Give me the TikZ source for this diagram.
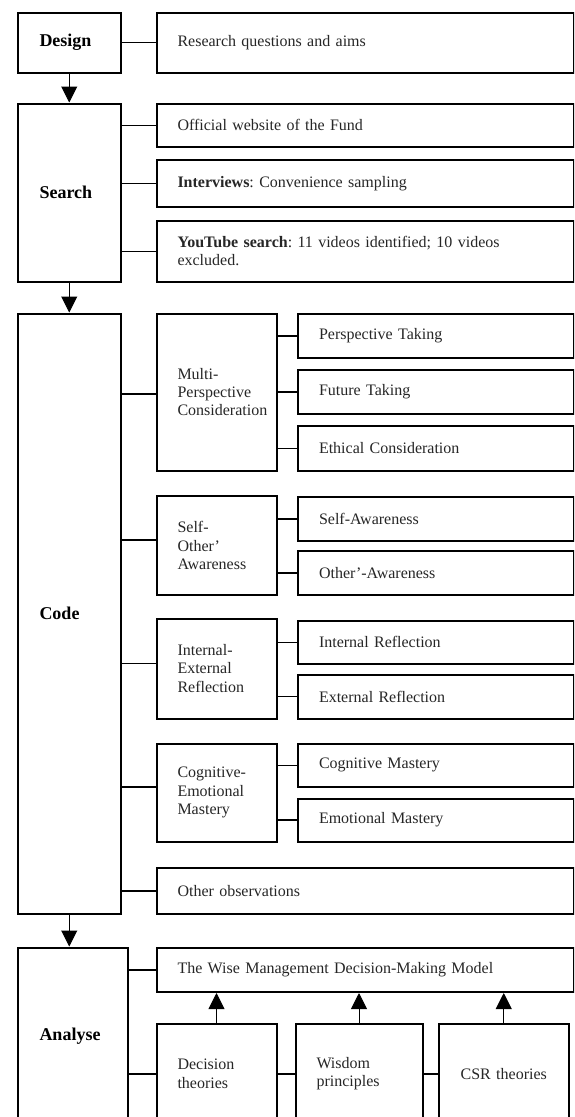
\documentclass[tikz,border=0pt]{standalone}
\usepackage{fontspec}
\setmainfont{Liberation Serif}
\usetikzlibrary{arrows.meta}
\frenchspacing
\begin{document}
\begin{tikzpicture}[x=1pt,y=-1pt]
    \tikzstyle{stageBox}=[draw,line width=2pt,anchor=north west,inner xsep=22pt,inner ysep=0pt,align=left,font=\fontsize{18}{21}\selectfont\bfseries]
    \tikzstyle{itemBox}=[draw,line width=2pt,anchor=north west,inner xsep=21pt,inner ysep=0pt,align=left,text=black!85,font=\fontsize{16}{18.4}\selectfont]
    \tikzstyle{link}=[line width=1.5pt]
    \tikzstyle{stageFlow}=[-{Triangle[width=16pt,length=16pt]}, line width=1pt]
    \useasboundingbox (0,0) rectangle (574,1117);
    \clip (0,0) rectangle (574,1117);

    % stages
    \node[stageBox,text width=59.5pt,minimum height=60pt] (design) at (16.5,11.5) {Design};
    \node[stageBox,text width=59.5pt,minimum height=178pt] (search) at (16.5,102.5) {Search};
    \node[stageBox,text width=59.5pt,minimum height=600pt] (code) at (16.5,312.5) {Code};
    \node[stageBox,text width=66pt,minimum height=177.5pt] (analyse) at (16.5,946.5) {Analyse};

    \node[itemBox,text width=375pt,minimum height=60pt] (aims) at (155.5,11.5) {Research questions and aims};

    \node[itemBox,text width=375pt,minimum height=43.5pt] (website) at (155.5,102.5) {Official website of the Fund};
    \node[itemBox,text width=375pt,minimum height=47pt] (interviews) at (155.5,159) {\textbf{Interviews}: Convenience sampling};
    \node[itemBox,text width=375pt,minimum height=60.5pt] (youtube) at (155.5,220) {\textbf{YouTube search}: 11 videos identified; 10 videos\\excluded.};

    \node[itemBox,text width=78.5pt,minimum height=157pt] (multi) at (155.5,312.5) {Multi-\\Perspective\\Consideration};
    \node[itemBox,text width=233.5pt,minimum height=43.5pt] (perspective) at (297,313) {Perspective Taking};
    \node[itemBox,text width=233.5pt,minimum height=43.5pt] (future) at (297,369) {Future Taking};
    \node[itemBox,text width=233.5pt,minimum height=44.5pt] (ethical) at (297,425) {Ethical Consideration};

    \node[itemBox,text width=78.5pt,minimum height=99pt] (selfother) at (155.5,495) {Self-\\Other’\\Awareness};
    \node[itemBox,text width=233.5pt,minimum height=43.5pt] (selfaware) at (297,496) {Self-Awareness};
    \node[itemBox,text width=233.5pt,minimum height=44pt] (otheraware) at (297,550) {Other’-Awareness};

    \node[itemBox,text width=78.5pt,minimum height=100pt] (intext) at (155.5,617.5) {Internal-\\External\\Reflection};
    \node[itemBox,text width=233.5pt,minimum height=43.5pt] (internal) at (297,619.5) {Internal Reflection};
    \node[itemBox,text width=233.5pt,minimum height=44pt] (external) at (297,673.5) {External Reflection};

    \node[itemBox,text width=78.5pt,minimum height=98pt] (cogemo) at (155.5,742.5) {Cognitive-\\Emotional\\Mastery};
    \node[itemBox,text width=233.5pt,minimum height=43.5pt] (cogmastery) at (297,742.5) {Cognitive Mastery};
    \node[itemBox,text width=233.5pt,minimum height=43pt] (emomastery) at (297,797.5) {Emotional Mastery};

    \node[itemBox,text width=375pt,minimum height=45.5pt] (otherobs) at (155.5,867) {Other observations};

    \node[itemBox,text width=375pt,minimum height=44.5pt] (wisemodel) at (155.5,946.5) {The Wise Management Decision-Making Model};
    \node[itemBox,text width=78pt,minimum height=100.5pt] (decision) at (155.5,1022.5) {Decision\\theories};
    \node[itemBox,text width=85pt,minimum height=100.5pt] (wisdom) at (294.5,1022.5) {Wisdom\\principles};
    \node[itemBox,text width=87.5pt,minimum height=100.5pt,align=center] (csr) at (438,1022.5) {CSR theories};

    % stage flow
    \draw[stageFlow] (design.south) -- (search.north);
    \draw[stageFlow] (search.south) -- (code.north);
    \draw[stageFlow] (code.south) -- (code.south |- analyse.north);

    \draw[link] (design.east) -- (design.east -| aims.west);

    \draw[link] (website.west) -- (website.west -| search.east);
    \draw[link] (interviews.west) -- (interviews.west -| search.east);
    \draw[link] (youtube.west) -- (youtube.west -| search.east);

    \draw[link] ([yshift=-2pt]multi.west) -- ([yshift=-2pt]multi.west -| code.east);
    \draw[link] ([yshift=5.5pt]selfother.west) -- ([yshift=5.5pt]selfother.west -| code.east);
    \draw[link] ([yshift=5pt]intext.west) -- ([yshift=5pt]intext.west -| code.east);
    \draw[link] ([yshift=5.5pt]cogemo.west) -- ([yshift=5.5pt]cogemo.west -| code.east);
    \draw[link] (otherobs.west) -- (otherobs.west -| code.east);

    \draw[link] (perspective.west) -- (perspective.west -| multi.east);
    \draw[link] (future.west) -- (future.west -| multi.east);
    \draw[link] (ethical.west) -- (ethical.west -| multi.east);
    \draw[link] (selfaware.west) -- (selfaware.west -| selfother.east);
    \draw[link] (otheraware.west) -- (otheraware.west -| selfother.east);
    \draw[link] (internal.west) -- (internal.west -| intext.east);
    \draw[link] (external.west) -- (external.west -| intext.east);
    \draw[link] (cogmastery.west) -- (cogmastery.west -| cogemo.east);
    \draw[link] (emomastery.west) -- (emomastery.west -| cogemo.east);

    \draw[link] (wisemodel.west) -- (wisemodel.west -| analyse.east);
    \draw[link] (decision.west) -- (decision.west -| analyse.east);
    \draw[link] (decision.east) -- (wisdom.west);
    \draw[link] (wisdom.east) -- (csr.west);

    \draw[stageFlow] (decision.north) -- (decision.north |- wisemodel.south);
    \draw[stageFlow] (wisdom.north) -- (wisdom.north |- wisemodel.south);
    \draw[stageFlow] (csr.north) -- (csr.north |- wisemodel.south);
\end{tikzpicture}
\end{document}
